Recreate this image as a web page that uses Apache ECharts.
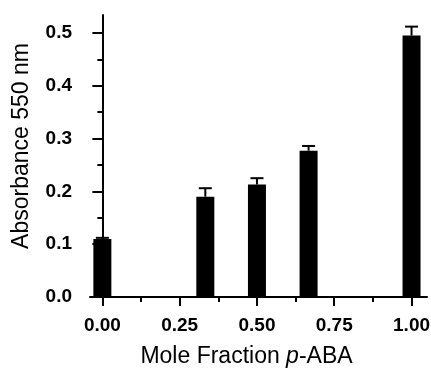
<!DOCTYPE html>
<html>
<head>
<meta charset="utf-8">
<script src="https://cdn.jsdelivr.net/npm/echarts@6/dist/echarts.min.js"></script>
<style>
  html, body { margin: 0; padding: 0; background: #fff; }
  #chart { width: 431px; height: 369px; }
</style>
</head>
<body>
<div id="chart"></div>
<script>
// mole fraction of p-ABA for each bar
const fractions = [0, 0.333, 0.5, 0.667, 1.0];
const absorbance = [0.11, 0.19, 0.213, 0.277, 0.495];
const errors = [0.002, 0.016, 0.012, 0.009, 0.017];

const xMajor = [0, 0.25, 0.5, 0.75, 1.0];
const xMinor = [0.125, 0.375, 0.625, 0.875];
const yMajor = [0, 0.1, 0.2, 0.3, 0.4, 0.5];
const yMinor = [0.05, 0.15, 0.25, 0.35, 0.45];

const chart = echarts.init(document.getElementById('chart'));

const lbl = { color: '#000', fontFamily: 'Liberation Sans, Arial', fontWeight: 'bold', fontSize: 19 };

const option = {
  animation: false,
  grid: { left: 90, right: 4, top: 15, bottom: 72, containLabel: false, outerBoundsMode: 'none' },
  xAxis: [
    {
      type: 'value', min: -0.04, max: 1.05,
      name: '{n|Mole Fraction }{i|p}{n|-ABA}',
      nameLocation: 'middle', nameGap: 48,
      nameTextStyle: {
        padding: [0, 24, 0, 0],
        rich: {
          n: { fontFamily: 'Liberation Sans, Arial', fontSize: 23, color: '#000' },
          i: { fontFamily: 'Liberation Sans, Arial', fontSize: 23, color: '#000', fontStyle: 'italic' }
        }
      },
      axisLine: { lineStyle: { color: '#000', width: 2 } },
      axisTick: { customValues: xMajor, length: 9, lineStyle: { color: '#000', width: 2 } },
      axisLabel: Object.assign({ customValues: xMajor, margin: 19, formatter: v => v.toFixed(2) }, lbl),
      splitLine: { show: false }
    },
    {
      type: 'value', min: -0.04, max: 1.05, position: 'bottom',
      axisLine: { show: false },
      axisTick: { customValues: xMinor, length: 5, lineStyle: { color: '#000', width: 2 } },
      axisLabel: { show: false },
      splitLine: { show: false }
    }
  ],
  yAxis: [
    {
      type: 'value', min: 0, max: 0.534,
      name: 'Absorbance 550 nm',
      nameLocation: 'middle', nameGap: 57,
      nameTextStyle: { fontFamily: 'Liberation Sans, Arial', fontSize: 23, color: '#000', padding: [0, 0, 0, 20] },
      axisLine: { show: true, lineStyle: { color: '#000', width: 2 } },
      axisTick: { show: true, customValues: yMajor, length: 10, lineStyle: { color: '#000', width: 2 } },
      axisLabel: Object.assign({ customValues: yMajor, margin: 18, formatter: v => v.toFixed(1) }, lbl),
      splitLine: { show: false }
    },
    {
      type: 'value', min: 0, max: 0.534, position: 'left',
      axisLine: { show: false },
      axisTick: { show: true, customValues: yMinor, length: 5, lineStyle: { color: '#000', width: 2 } },
      axisLabel: { show: false },
      splitLine: { show: false }
    }
  ],
  series: [
    {
      type: 'bar',
      barWidth: 18,
      itemStyle: { color: '#000' },
      data: fractions.map((x, i) => [x, absorbance[i]])
    },
    {
      type: 'custom',
      z: 3,
      data: fractions.map((x, i) => [x, absorbance[i], absorbance[i] + errors[i]]),
      renderItem: (params, api) => {
        const base = api.coord([api.value(0), api.value(1)]);
        const top = api.coord([api.value(0), api.value(2)]);
        const half = 6.5;
        const style = { stroke: '#000', lineWidth: 2 };
        return {
          type: 'group',
          children: [
            { type: 'line', shape: { x1: base[0], y1: base[1], x2: top[0], y2: top[1] }, style },
            { type: 'line', shape: { x1: top[0] - half, y1: top[1], x2: top[0] + half, y2: top[1] }, style }
          ]
        };
      }
    }
  ]
};

chart.setOption(option);
</script>
</body>
</html>
